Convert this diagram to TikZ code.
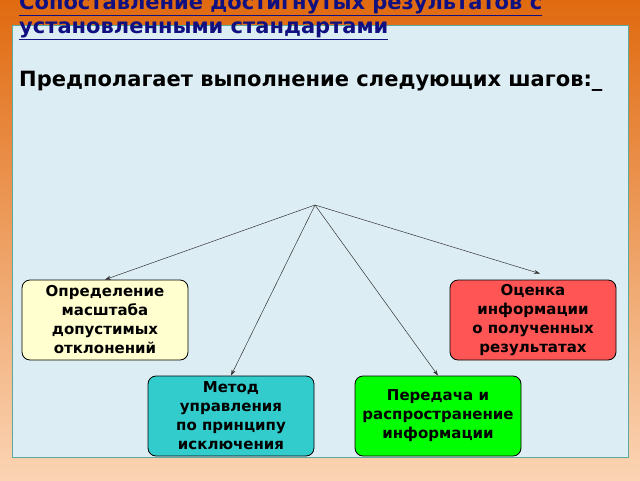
\documentclass[tikz,border=0pt]{standalone}
\usepackage{fontspec}
\setmainfont{DejaVu Sans}
\usetikzlibrary{arrows.meta}
\definecolor{ttl}{HTML}{101080}
\tikzset{
  box/.style={draw=black,line width=0.8pt,rounded corners=8pt,minimum width=166pt,minimum height=80pt,align=center,font=\fontsize{15}{19}\selectfont\bfseries,inner sep=0pt},
  conn/.style={draw=black!80,line width=0.5pt,-{Stealth[length=6pt,width=4pt]}}
}
\begin{document}
\begin{tikzpicture}[x=1pt,y=-1pt]
\useasboundingbox (0,0) rectangle (640,480);
\shade[top color={rgb,255:red,224;green,106;blue,16}, bottom color={rgb,255:red,251;green,212;blue,180}] (0,0) rectangle (640,480);
\fill[fill={rgb,255:red,220;green,238;blue,244}, draw={rgb,255:red,90;green,170;blue,160}, line width=1pt] (12,25) rectangle (628,457);
\node[anchor=base west,font=\fontsize{21}{25}\selectfont\bfseries,text=ttl,inner sep=0] (t1) at (19,9) {\underline{Сопоставление достигнутых результатов с}};
\node[anchor=base west,font=\fontsize{21}{25}\selectfont\bfseries,text=ttl,inner sep=0] (t2) at (19,33) {\underline{установленными стандартами}};
\node[anchor=base west,font=\fontsize{21}{25}\selectfont\bfseries,inner sep=0] (t3) at (19,86) {Предполагает выполнение следующих шагов:\_};
\coordinate (hub) at (315,205);
\node[box,fill={rgb,255:red,255;green,255;blue,208}] (b1) at (105,320) {Определение\\масштаба\\допустимых\\ отклонений};
\node[box,fill={rgb,255:red,255;green,85;blue,85}] (b2) at (533,320) {Оценка\\информации\\о полученных\\ результатах};
\node[box,fill={rgb,255:red,51;green,204;blue,204}] (b3) at (231,416) {Метод\\управления\\по принципу\\ исключения};
\node[box,fill={rgb,255:red,0;green,255;blue,0}] (b4) at (438,416) {Передача и\\распространение\\ информации};
\draw[conn] (hub) -- (b1.north);
\draw[conn] (hub) -- ([xshift=7pt,yshift=6pt]b2.north);
\draw[conn] (hub) -- (b3.north);
\draw[conn] (hub) -- (b4.north);
\end{tikzpicture}
\end{document}
